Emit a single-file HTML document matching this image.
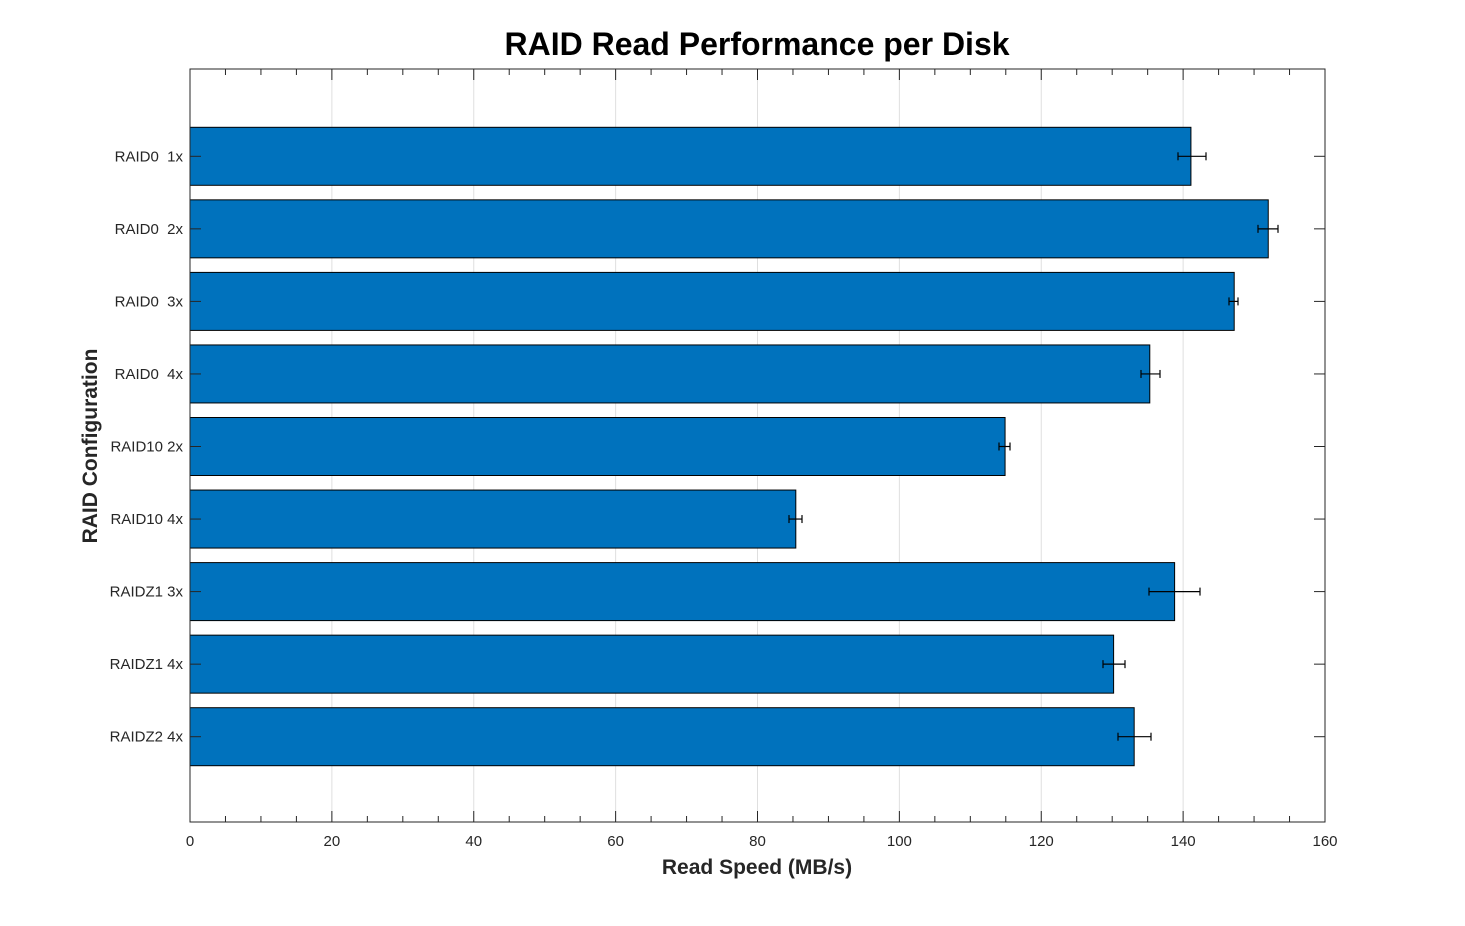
<!DOCTYPE html>
<html><head><meta charset="utf-8"><style>
html,body{margin:0;padding:0;background:#fff;}
svg{display:block;font-family:"Liberation Sans",Arial,sans-serif;}
</style></head><body>
<svg id="c" width="1465" height="926" xmlns="http://www.w3.org/2000/svg">
<rect width="1465" height="926" fill="#fff"/>
</svg>
<script>
const s=document.getElementById('c');let h='';
const X0=190,X1=1325,Y0=69,Y1=822,k=(X1-X0)/160;
const x=v=>X0+v*k;
for(let v=20;v<160;v+=20)h+=`<line x1="${x(v)}" y1="${Y0}" x2="${x(v)}" y2="${Y1}" stroke="#dfdfdf" stroke-width="1"/>`;
const labels=["RAID0&#160;&#160;1x","RAID0&#160;&#160;2x","RAID0&#160;&#160;3x","RAID0&#160;&#160;4x","RAID10 2x","RAID10 4x","RAIDZ1 3x","RAIDZ1 4x","RAIDZ2 4x"];
const vals=[141.1,152.0,147.2,135.3,114.9,85.4,138.8,130.2,133.1];
const err=[[1178,1206],[1258,1278],[1229,1238],[1141,1160],[999,1010],[789,802],[1149,1200],[1103,1125],[1118,1151]];
const step=72.55,c0=156.3,bh=58;
labels.forEach((l,i)=>{
 const cy=c0+i*step;
 h+=`<rect x="${X0}" y="${cy-bh/2}" width="${x(vals[i])-X0}" height="${bh}" fill="#0072bd" stroke="#000" stroke-width="1"/>`;
 const [a,b]=err[i];
 h+=`<g stroke="#000" stroke-width="1.2"><line x1="${a}" y1="${cy}" x2="${b}" y2="${cy}"/><line x1="${a}" y1="${cy-4}" x2="${a}" y2="${cy+4}"/><line x1="${b}" y1="${cy-4}" x2="${b}" y2="${cy+4}"/></g>`;
 h+=`<line x1="${X0}" y1="${cy}" x2="${X0+11}" y2="${cy}" stroke="#262626"/><line x1="${X1}" y1="${cy}" x2="${X1-11}" y2="${cy}" stroke="#262626"/>`;
 h+=`<text x="183" y="${cy+5}" font-size="15" fill="#262626" text-anchor="end">${l}</text>`;
});
for(let v=0;v<=160;v+=5){const len=v%20==0?11:6;
 h+=`<line x1="${x(v)}" y1="${Y1}" x2="${x(v)}" y2="${Y1-len}" stroke="#262626"/><line x1="${x(v)}" y1="${Y0}" x2="${x(v)}" y2="${Y0+len}" stroke="#262626"/>`;
 if(v%20==0)h+=`<text x="${x(v)}" y="846" font-size="15" fill="#262626" text-anchor="middle">${v}</text>`;}
h+=`<rect x="${X0}" y="${Y0}" width="${X1-X0}" height="${Y1-Y0}" fill="none" stroke="#262626" stroke-width="1"/>`;
h+=`<text x="757" y="55" font-size="32" font-weight="bold" fill="#000" text-anchor="middle">RAID Read Performance per Disk</text>`;
h+=`<text x="757" y="874" font-size="21" font-weight="bold" fill="#262626" text-anchor="middle">Read Speed (MB/s)</text>`;
h+=`<text transform="translate(97,446) rotate(-90)" font-size="21" font-weight="bold" fill="#262626" text-anchor="middle">RAID Configuration</text>`;
s.innerHTML+=h;
</script>
</body></html>
